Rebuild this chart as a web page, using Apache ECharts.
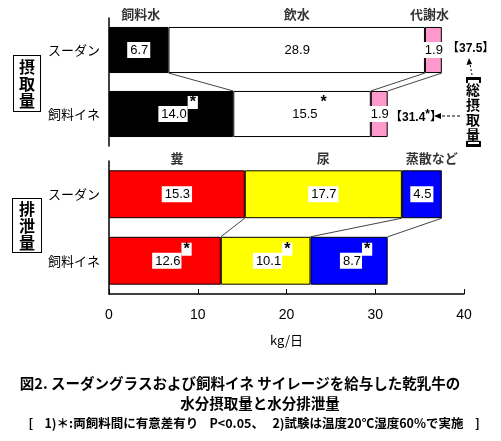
<!DOCTYPE html>
<html>
<head>
<meta charset="utf-8">
<script src="https://cdn.jsdelivr.net/npm/echarts@6/dist/echarts.min.js"></script>
<style>
  html, body { margin: 0; padding: 0; background: #fff; }
  #chart { width: 501px; height: 441px; }
</style>
</head>
<body>
<div id="chart"></div>
<script>
// 区分
var groups = ['スーダン', '飼料イネ'];
var xTicks = [0, 10, 20, 30, 40];

// 摂取量 (kg/日)
var intakeNames = ['飼料水', '飲水', '代謝水'];
var feedWater = [6.7, 14.0];
var drinkWater = [28.9, 15.5];
var metabWater = [1.9, 1.9];
var intakeSig = [[false, true], [false, true], [false, false]];
var totalIntake = [37.5, 31.4];
var totalSig = [false, true];

// 排泄量 (kg/日)
var outputNames = ['糞', '尿', '蒸散など'];
var feces = [15.3, 12.6];
var urine = [17.7, 10.1];
var evap = [4.5, 8.7];
var outputSig = [[false, true], [false, true], [false, true]];

var JP = '"Noto Sans CJK JP", sans-serif';
var NUM = '"Liberation Sans", "Noto Sans CJK JP", sans-serif';

var myChart = echarts.init(document.getElementById('chart'));

function segLabel(sig) {
    return {
        show: true,
        position: 'inside',
        formatter: function (p) {
            var v = p.value.toFixed(1);
            return sig[p.dataIndex] ? '{v|' + v + '}{s|*}' : '{n|' + v + '}';
        },
        rich: {
            n: {
                backgroundColor: '#fff', color: '#000', fontSize: 13, fontFamily: NUM,
                padding: [2, 2, 1, 3]
            },
            v: {
                backgroundColor: '#fff', color: '#000', fontSize: 13, fontFamily: NUM,
                padding: [2, 1, 1, 3], verticalAlign: 'bottom', lineHeight: 26
            },
            s: {
                backgroundColor: '#fff', color: '#000', fontSize: 16, fontWeight: 'bold',
                fontFamily: NUM, padding: [1, 2, 0, 2], height: 12, verticalAlign: 'top', lineHeight: 26
            }
        }
    };
}

function barSeries(name, data, color, sig, axis) {
    return {
        name: name,
        type: 'bar',
        stack: 'g' + axis,
        xAxisIndex: axis,
        yAxisIndex: axis,
        barWidth: '72%',
        data: data.map(function (v, i) {
            var item = { value: v };
            if (sig[i]) item.label = { offset: [7, -5] };
            return item;
        }),
        itemStyle: { color: color, borderColor: '#000', borderWidth: 1 },
        label: segLabel(sig),
        silent: true
    };
}

// 区切り線：スーダンの境界から飼料イネの境界へ
function boundaries(lists) {
    var out = [], a = 0, b = 0;
    lists.forEach(function (l) {
        a += l[0];
        b += l[1];
        out.push([a, b, 0]);
    });
    return out;
}

function linkSeries(lists, axis) {
    return {
        type: 'custom',
        xAxisIndex: axis,
        yAxisIndex: axis,
        silent: true,
        z: 1,
        encode: { x: [0, 1], y: 2 },
        data: boundaries(lists),
        renderItem: function (params, api) {
            var top = api.coord([api.value(0), 0]);
            var bot = api.coord([api.value(1), 1]);
            var half = api.size([0, 1])[1] * 0.72 / 2;
            return {
                type: 'line',
                shape: { x1: top[0], y1: top[1] + half, x2: bot[0], y2: bot[1] - half },
                style: { stroke: '#444', lineWidth: 1 }
            };
        }
    };
}

// 項目名（スーダンの各区分の中央上）
function headSeries(names, lists, axis, shift) {
    var out = [], c = 0;
    lists.forEach(function (l, i) {
        out.push({ value: [c + l[0] / 2, 0], name: names[i], label: { offset: [shift[i], -36] } });
        c += l[0];
    });
    return {
        type: 'scatter',
        xAxisIndex: axis,
        yAxisIndex: axis,
        symbolSize: 0,
        silent: true,
        data: out,
        label: {
            show: true,
            position: 'inside',
            formatter: '{b}',
            color: '#000',
            fontSize: 13,
            fontWeight: 'bold',
            fontFamily: JP
        }
    };
}

var intakeLists = [feedWater, drinkWater, metabWater];
var outputLists = [feces, urine, evap];

var option = {
    backgroundColor: '#fff',
    animation: false,
    grid: [
        { left: 109, right: 37, top: 18, height: 128 },
        { left: 109, right: 37, top: 161, height: 133 }
    ],
    xAxis: [
        {
            gridIndex: 0, type: 'value', min: 0, max: 40, interval: 10,
            axisLine: { show: false }, axisTick: { show: false },
            axisLabel: { show: false }, splitLine: { show: false }
        },
        {
            gridIndex: 1, type: 'value', min: xTicks[0], max: xTicks[xTicks.length - 1], interval: 10,
            axisLine: { show: true, lineStyle: { color: '#000', width: 1.5 } },
            axisTick: { show: true, inside: true, length: 5, lineStyle: { color: '#000' } },
            axisLabel: { color: '#000', fontSize: 14, fontFamily: NUM, margin: 14 },
            splitLine: { show: false },
            name: 'kg/日',
            nameLocation: 'middle',
            nameGap: 40,
            nameTextStyle: { color: '#000', fontSize: 13, fontFamily: JP }
        }
    ],
    yAxis: [0, 1].map(function (i) {
        return {
            gridIndex: i, type: 'category', data: groups, inverse: true,
            axisLine: { show: true, lineStyle: { color: '#000', width: 1.5 } },
            axisTick: { show: false },
            axisLabel: { color: '#000', fontSize: 13, fontFamily: JP, margin: 9 }
        };
    }),
    series: [
        linkSeries(intakeLists, 0),
        barSeries(intakeNames[0], feedWater, '#000000', intakeSig[0], 0),
        barSeries(intakeNames[1], drinkWater, '#ffffff', intakeSig[1], 0),
        barSeries(intakeNames[2], metabWater, '#ff99cc', intakeSig[2], 0),
        headSeries(intakeNames, intakeLists, 0, [2, 0, -4]),
        linkSeries(outputLists, 1),
        barSeries(outputNames[0], feces, '#ff0000', outputSig[0], 1),
        barSeries(outputNames[1], urine, '#ffff00', outputSig[1], 1),
        barSeries(outputNames[2], evap, '#0000ff', outputSig[2], 1),
        headSeries(outputNames, outputLists, 1, [0, 0, 10])
    ],
    graphic: [
        // 左の枠
        {
            type: 'text', left: 13, top: 55,
            style: {
                text: '摂\n取\n量', font: 'bold 16px ' + JP, lineHeight: 17, fill: '#000',
                borderColor: '#000', borderWidth: 1, padding: [2, 5, 2, 5], backgroundColor: '#fff'
            }
        },
        {
            type: 'text', left: 12, top: 198,
            style: {
                text: '排\n泄\n量', font: 'bold 16px ' + JP, lineHeight: 17, fill: '#000',
                borderColor: '#000', borderWidth: 1, padding: [1, 6, 1, 6], backgroundColor: '#fff'
            }
        },
        // 総摂取量
        {
            type: 'text', left: 447, top: 43,
            style: {
                text: '【' + totalIntake[0].toFixed(1) + (totalSig[0] ? '*' : '') + '】',
                font: 'bold 12px ' + NUM, fill: '#000'
            }
        },
        {
            type: 'text', left: 390, top: 109,
            style: {
                text: '【' + totalIntake[1].toFixed(1) + '{s|' + (totalSig[1] ? '*' : '') + '}】',
                font: 'bold 12px ' + NUM, fill: '#000',
                rich: { s: { fontSize: 12, fontWeight: 'bold', padding: [0, 0, 6, 0] } }
            }
        },
        {
            type: 'text', left: 466, top: 82,
            style: {
                text: '総\n摂\n取\n量',
                font: 'bold 14px ' + JP, lineHeight: 15, fill: '#000'
            }
        },
        {
            type: 'polygon',
            shape: { points: [[466, 77], [481, 77], [481, 83], [479, 83], [479, 80], [468, 80], [468, 83], [466, 83]] },
            style: { fill: '#000' }
        },
        {
            type: 'polygon',
            shape: { points: [[466, 147], [481, 147], [481, 141], [479, 141], [479, 144], [468, 144], [468, 141], [466, 141]] },
            style: { fill: '#000' }
        },
        // 矢印
        {
            type: 'line', shape: { x1: 472, y1: 75, x2: 470, y2: 64 },
            style: { stroke: '#000', lineWidth: 1, lineDash: [2, 2] }
        },
        {
            type: 'polygon', shape: { points: [[469, 58], [466.5, 65], [472, 64]] },
            style: { fill: '#000' }
        },
        {
            type: 'line', shape: { x1: 460, y1: 116, x2: 441, y2: 116 },
            style: { stroke: '#000', lineWidth: 1, lineDash: [3, 2] }
        },
        {
            type: 'polygon', shape: { points: [[434, 116], [441, 113], [441, 119]] },
            style: { fill: '#000' }
        },
        // 図のタイトル
        {
            type: 'text', x: 240, y: 383,
            style: {
                text: '図2. スーダングラスおよび飼料イネ サイレージを給与した乾乳牛の',
                font: 'bold 14.5px ' + JP, fill: '#000', align: 'center', verticalAlign: 'middle'
            }
        },
        {
            type: 'text', x: 260, y: 403,
            style: {
                text: '水分摂取量と水分排泄量',
                font: 'bold 14.5px ' + JP, fill: '#000', align: 'center', verticalAlign: 'middle'
            }
        },
        {
            type: 'text', x: 254, y: 423,
            style: {
                text: '[    1)＊:両飼料間に有意差有り    P<0.05、   2)試験は温度20℃湿度60%で実施    ]',
                font: 'bold 12.5px ' + JP, fill: '#000', align: 'center', verticalAlign: 'middle'
            }
        }
    ]
};

myChart.setOption(option);
</script>
</body>
</html>
